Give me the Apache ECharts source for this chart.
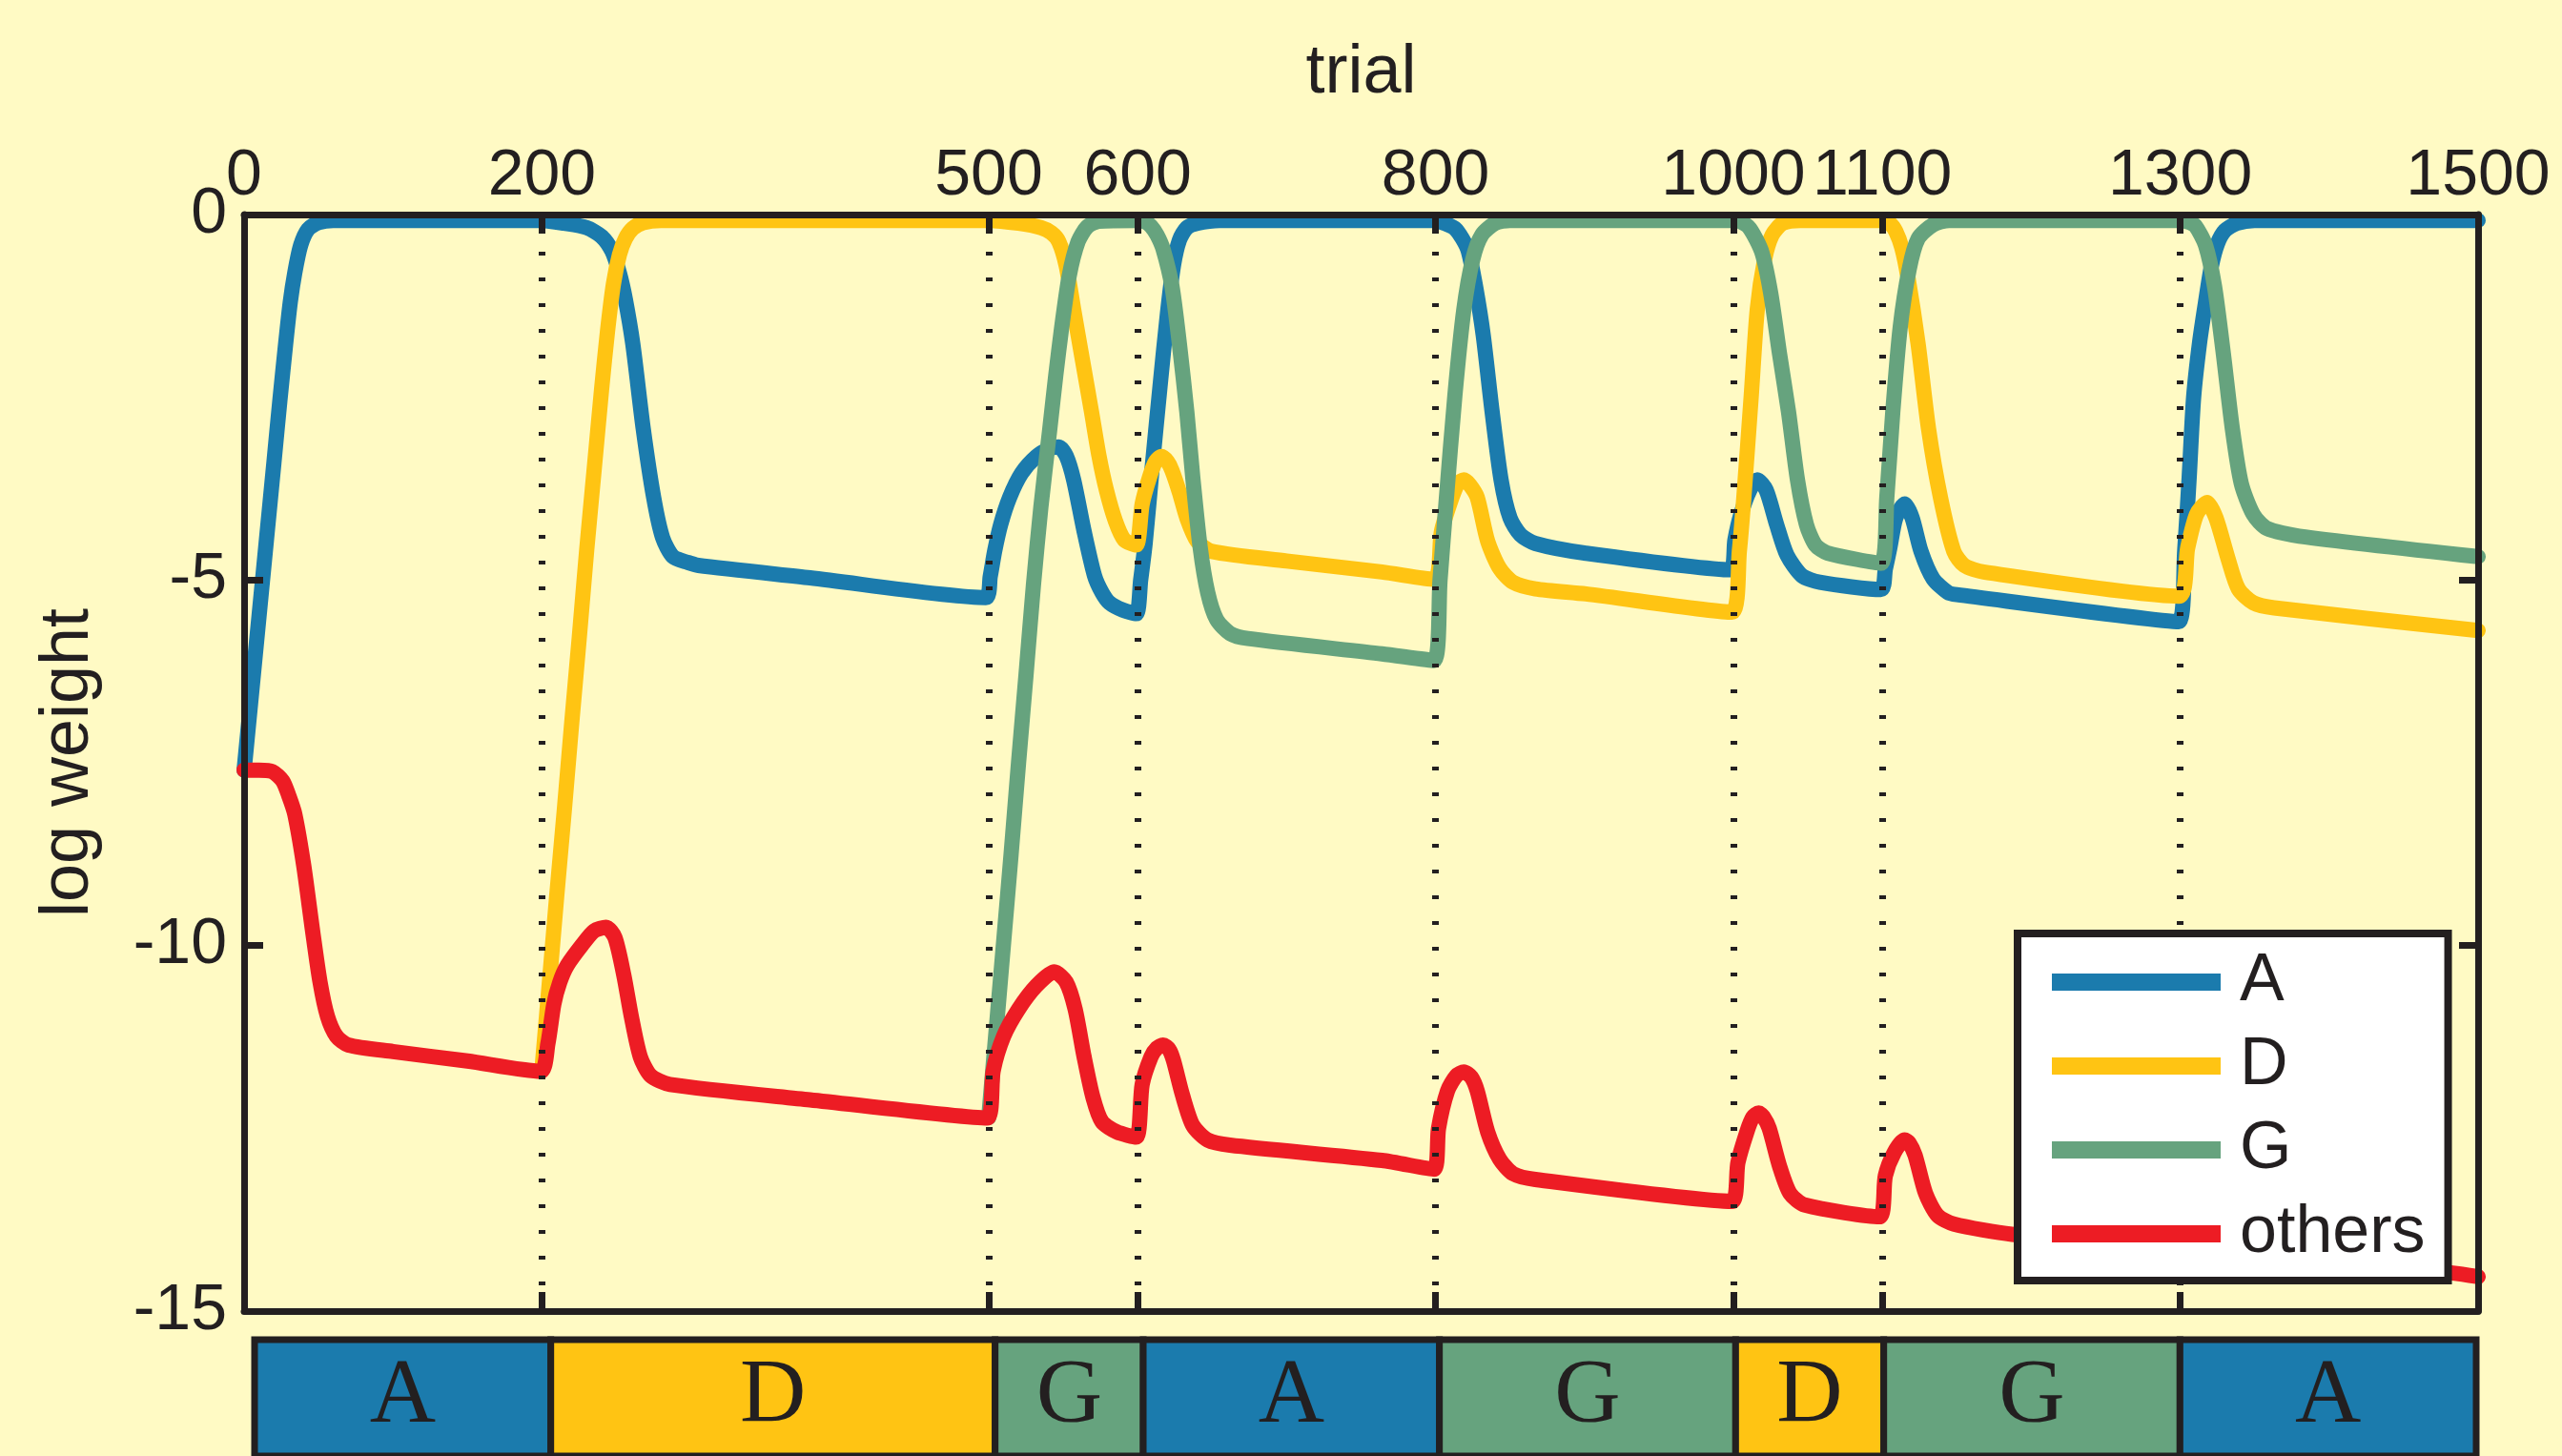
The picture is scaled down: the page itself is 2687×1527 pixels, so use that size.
<!DOCTYPE html>
<html>
<head>
<meta charset="utf-8">
<script src="https://cdn.jsdelivr.net/npm/echarts@6/dist/echarts.min.js"></script>
<style>
html, body { margin: 0; padding: 0; background: #FFFAC4; }
#chart { width: 2687px; height: 1527px; }
</style>
</head>
<body>
<div id="chart"></div>
<script>
// tick positions on the trial axis and where the task switches
const trialTicks = [0, 200, 500, 600, 800, 1000, 1100, 1300, 1500];
const switchTrials = [200, 500, 600, 800, 1000, 1100, 1300];

// task blocks shown in the strip under the plot
const blockStarts = [0, 200, 500, 600, 800, 1000, 1100, 1300];
const blockEnds = [200, 500, 600, 800, 1000, 1100, 1300, 1500];
const blockLabels = ["A", "D", "G", "A", "G", "D", "G", "A"];

// log weight per trial, [trial, value]
const weightA = [
    [0, -7.6], [5, -6.55], [10, -5.5], [15, -4.45], [20, -3.4], [24, -2.55], [28, -1.75], [31, -1.2], [34, -0.8], [38, -0.42], [43, -0.2], [50, -0.11], [60, -0.08],
    [200, -0.08], [215, -0.12], [230, -0.18], [240, -0.3], [247, -0.5], [252, -0.8], [256, -1.16], [261, -1.77], [268, -2.93], [275, -3.87], [281, -4.42], [288, -4.68], [298, -4.76], [305, -4.8], [380, -4.97], [498, -5.24],
    [501, -4.95], [504, -4.6], [508, -4.24], [514, -3.87], [522, -3.54], [532, -3.31], [541, -3.2], [547, -3.18], [552, -3.3], [557, -3.63], [564, -4.33], [571, -4.94], [576, -5.17], [581, -5.31], [590, -5.41], [599, -5.46],
    [602, -5.0], [605, -4.5], [610, -3.4], [615, -2.35], [620, -1.35], [624, -0.7], [628, -0.35], [633, -0.18], [640, -0.12], [655, -0.08],
    [800, -0.08], [806, -0.12], [813, -0.19], [818, -0.33], [822, -0.5], [827, -1.0], [832, -1.65], [838, -2.7], [844, -3.63], [850, -4.15], [857, -4.38], [867, -4.5], [900, -4.63], [998, -4.86],
    [1001, -4.45], [1005, -4.1], [1011, -3.77], [1016, -3.63], [1022, -3.77], [1029, -4.24], [1036, -4.66], [1046, -4.94], [1058, -5.03], [1099, -5.13],
    [1102, -4.85], [1105, -4.56], [1109, -4.15], [1115, -3.96], [1120, -4.15], [1126, -4.61], [1134, -4.98], [1144, -5.17], [1150, -5.2], [1299, -5.57],
    [1303, -4.6], [1306, -3.6], [1309, -2.5], [1313, -1.75], [1317, -1.2], [1321, -0.7], [1325, -0.4], [1330, -0.22], [1338, -0.12], [1350, -0.08], [1500, -0.08]
];

const weightD = [
    [200, -11.7], [205, -10.5], [210, -9.3], [215, -8.15], [220, -6.95], [225, -5.8], [230, -4.6], [235, -3.5], [240, -2.4], [244, -1.6], [248, -0.95], [252, -0.55], [256, -0.33], [261, -0.19], [268, -0.11], [280, -0.08],
    [500, -0.08], [520, -0.12], [535, -0.18], [542, -0.25], [547, -0.37], [552, -0.7], [557, -1.3], [563, -2.0], [569, -2.7], [574, -3.3], [579, -3.77], [585, -4.19], [591, -4.45], [599, -4.52],
    [603, -3.96], [608, -3.59], [612, -3.38], [616, -3.31], [620, -3.38], [623, -3.5], [628, -3.8], [633, -4.15], [640, -4.47], [650, -4.61], [700, -4.74], [764, -4.89], [799, -4.99],
    [804, -4.33], [811, -3.87], [815, -3.68], [819, -3.63], [823, -3.7], [828, -3.87], [835, -4.47], [843, -4.84], [852, -5.03], [867, -5.12], [901, -5.19], [999, -5.44],
    [1004, -4.6], [1007, -3.87], [1012, -2.47], [1016, -1.3], [1021, -0.61], [1026, -0.28], [1033, -0.12], [1045, -0.08],
    [1100, -0.08], [1105, -0.12], [1109, -0.23], [1113, -0.45], [1117, -0.84], [1124, -1.77], [1131, -2.93], [1139, -3.87], [1148, -4.61], [1155, -4.8], [1168, -4.89], [1299, -5.22],
    [1305, -4.56], [1311, -4.1], [1318, -3.94], [1324, -4.15], [1332, -4.7], [1339, -5.12], [1349, -5.31], [1363, -5.38], [1500, -5.69]
];

const weightG = [
    [500, -12.35], [505, -11.15], [510, -9.95], [515, -8.75], [520, -7.5], [525, -6.3], [530, -5.07], [535, -4.0], [541, -2.93], [545, -2.2], [549, -1.54], [554, -0.84], [560, -0.37], [566, -0.17], [574, -0.09], [600, -0.08],
    [605, -0.1], [609, -0.16], [613, -0.28], [617, -0.47], [623, -0.98], [628, -1.77], [633, -2.7], [637, -3.6], [642, -4.56], [647, -5.17], [653, -5.54], [662, -5.73], [674, -5.8], [764, -6.01], [799, -6.1],
    [803, -5.0], [807, -3.95], [813, -2.47], [819, -1.3], [825, -0.61], [831, -0.28], [840, -0.12], [850, -0.08],
    [1000, -0.08], [1005, -0.1], [1011, -0.19], [1019, -0.51], [1025, -1.07], [1031, -1.91], [1037, -2.7], [1043, -3.63], [1049, -4.24], [1055, -4.52], [1063, -4.63], [1099, -4.77],
    [1103, -3.87], [1107, -2.7], [1112, -1.54], [1118, -0.75], [1124, -0.33], [1134, -0.14], [1145, -0.08],
    [1300, -0.08], [1305, -0.1], [1310, -0.15], [1317, -0.42], [1323, -0.98], [1329, -1.91], [1335, -2.93], [1341, -3.68], [1349, -4.1], [1358, -4.29], [1380, -4.4], [1500, -4.68]
];

const weightOthers = [
    [0, -7.6], [10, -7.6], [19, -7.62], [26, -7.75], [30, -7.95], [34, -8.2], [40, -8.9], [46, -9.8], [51, -10.5], [56, -10.97], [62, -11.24], [70, -11.36], [100, -11.45], [150, -11.58], [199, -11.72],
    [204, -11.34], [208, -10.8], [212, -10.5], [217, -10.27], [227, -9.99], [235, -9.8], [243, -9.75], [249, -9.89], [255, -10.41], [260, -10.97], [266, -11.52], [273, -11.78], [286, -11.9], [380, -12.11], [499, -12.36],
    [503, -11.71], [510, -11.24], [520, -10.87], [532, -10.55], [544, -10.36], [552, -10.5], [558, -10.87], [564, -11.52], [570, -12.08], [576, -12.41], [586, -12.55], [599, -12.62],
    [603, -11.9], [609, -11.52], [613, -11.4], [617, -11.36], [621, -11.42], [624, -11.57], [630, -12.04], [637, -12.46], [647, -12.66], [662, -12.73], [764, -12.94], [799, -13.06],
    [802, -12.5], [808, -11.99], [814, -11.78], [819, -11.73], [824, -11.8], [828, -11.99], [835, -12.55], [843, -12.92], [852, -13.12], [867, -13.2], [999, -13.5],
    [1003, -12.97], [1009, -12.55], [1013, -12.35], [1017, -12.29], [1020, -12.34], [1024, -12.5], [1031, -13.02], [1038, -13.39], [1048, -13.55], [1098, -13.71],
    [1102, -13.15], [1108, -12.83], [1115, -12.66], [1118, -12.7], [1122, -12.87], [1129, -13.39], [1137, -13.69], [1148, -13.81], [1187, -13.95], [1299, -14.15],
    [1303, -13.6], [1309, -13.25], [1316, -13.1], [1322, -13.3], [1330, -13.8], [1340, -14.1], [1360, -14.2], [1483, -14.48], [1500, -14.53]
];

const ink = "#231F20";
const sans = "'Liberation Sans', Arial, Helvetica, sans-serif";
const colors = { A: "#1B7BAD", D: "#FFC413", G: "#66A37E", others: "#ED1C24" };

function weightSeries(name, data) {
    return {
        type: "line",
        name: name,
        data: data,
        xAxisIndex: 0,
        yAxisIndex: 0,
        showSymbol: false,
        symbol: "none",
        smooth: 0.25,
        z: 3,
        itemStyle: { color: colors[name] },
        lineStyle: { color: colors[name], width: 16, cap: "round", join: "round" },
    };
}

function frameAxis(extra) {
    return Object.assign({
        gridIndex: 0,
        type: "value",
        z: 5,
        axisLine: { show: true, onZero: false, lineStyle: { color: ink, width: 7 } },
        axisTick: { show: true, inside: true, length: 20, lineStyle: { color: ink, width: 7 } },
        splitLine: { show: false },
    }, extra);
}

const option = {
    animation: false,
    backgroundColor: "#FFFAC4",
    grid: [
        { left: 256, top: 225, width: 2343, height: 1150 },
        { left: 267, top: 1405, width: 2330, height: 170 },
    ],
    xAxis: [
        frameAxis({
            position: "top",
            min: 0,
            max: 1500,
            name: "trial",
            nameLocation: "middle",
            nameGap: 112,
            nameTextStyle: { fontSize: 72, color: ink, fontFamily: sans },
            axisTick: { show: true, inside: true, length: 20, customValues: trialTicks, lineStyle: { color: ink, width: 7 } },
            axisLabel: {
                customValues: trialTicks,
                showMinLabel: true,
                showMaxLabel: true,
                fontSize: 68,
                color: ink,
                fontFamily: sans,
                margin: 6,
                formatter: v => String(v),
            },
        }),
        frameAxis({
            position: "bottom",
            min: 0,
            max: 1500,
            axisTick: { show: true, inside: true, length: 20, customValues: trialTicks, lineStyle: { color: ink, width: 7 } },
            axisLabel: { show: false },
        }),
        { gridIndex: 1, type: "value", min: 0, max: 1500, show: false },
    ],
    yAxis: [
        frameAxis({
            position: "left",
            min: -15,
            max: 0,
            interval: 5,
            name: "log weight",
            nameLocation: "middle",
            nameGap: 148,
            nameRotate: 90,
            nameTextStyle: { fontSize: 72, color: ink, fontFamily: sans },
            axisLabel: { fontSize: 68, color: ink, fontFamily: sans, margin: 18, formatter: v => String(v) },
        }),
        frameAxis({
            position: "right",
            min: -15,
            max: 0,
            interval: 5,
            axisLabel: { show: false },
        }),
        { gridIndex: 1, type: "value", min: 0, max: 1, show: false },
    ],
    legend: {
        data: ["A", "D", "G", "others"],
        orient: "vertical",
        left: 2116,
        top: 979,
        padding: [16, 24, 14, 36],
        itemWidth: 177,
        itemHeight: 18,
        itemGap: 18,
        icon: "rect",
        selectedMode: false,
        backgroundColor: "#FFFFFF",
        borderColor: ink,
        borderWidth: 8,
        borderRadius: 0,
        z: 10,
        itemStyle: { borderWidth: 0 },
        textStyle: { fontSize: 70, lineHeight: 70, color: ink, fontFamily: sans, padding: [0, 0, 0, 15] },
    },
    series: [
        {
            type: "line",
            name: "switches",
            data: [],
            xAxisIndex: 0,
            yAxisIndex: 0,
            z: 1,
            silent: true,
            markLine: {
                silent: true,
                symbol: ["none", "none"],
                label: { show: false },
                lineStyle: { color: ink, width: 7, type: [4, 23], cap: "butt" },
                data: switchTrials.map(t => ({ xAxis: t })),
            },
        },
        weightSeries("A", weightA),
        weightSeries("D", weightD),
        weightSeries("G", weightG),
        weightSeries("others", weightOthers),
        {
            type: "custom",
            name: "blocks",
            xAxisIndex: 2,
            yAxisIndex: 2,
            clip: false,
            silent: true,
            data: blockStarts.map((s, i) => [s, blockEnds[i]]),
            renderItem(params, api) {
                const p0 = api.coord([api.value(0), 1]);
                const p1 = api.coord([api.value(1), 0]);
                const label = blockLabels[params.dataIndex];
                return {
                    type: "group",
                    children: [
                        {
                            type: "rect",
                            shape: { x: p0[0], y: p0[1], width: p1[0] - p0[0], height: p1[1] - p0[1] },
                            style: { fill: colors[label], stroke: ink, lineWidth: 7 },
                        },
                        {
                            type: "text",
                            style: {
                                text: label,
                                x: (p0[0] + p1[0]) / 2,
                                y: (p0[1] + p1[1]) / 2,
                                align: "center",
                                verticalAlign: "middle",
                                font: "96px 'Liberation Serif', 'Times New Roman', serif",
                                fill: ink,
                            },
                        },
                    ],
                };
            },
        },
    ],
};

const chart = echarts.init(document.getElementById("chart"), null, { width: 2687, height: 1527 });
chart.setOption(option);
</script>
</body>
</html>
